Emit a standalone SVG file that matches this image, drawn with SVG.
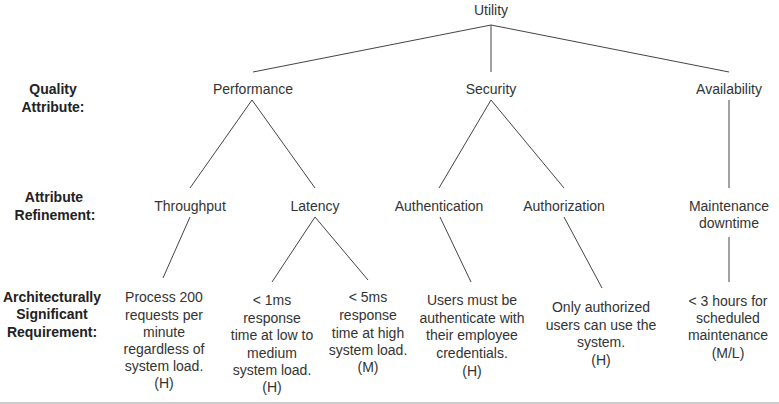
<svg xmlns="http://www.w3.org/2000/svg" width="779" height="404" viewBox="0 0 779 404">
<style>
text{font-family:"Liberation Sans",Arial,sans-serif;font-size:14px;fill:#333;text-anchor:middle}
.lbl{font-weight:bold;fill:#222}
.c line{stroke:#444;stroke-width:1}
</style>
<rect width="779" height="404" fill="#fff"/>
<rect x="0" y="402" width="779" height="2" fill="#ccc"/>
<g id="row-labels">
<text class="lbl" x="53" y="94">Quality</text>
<text class="lbl" x="53" y="111.5">Attribute:</text>
<text class="lbl" x="54" y="202">Attribute</text>
<text class="lbl" x="55" y="219.5">Refinement:</text>
<text class="lbl" x="52" y="302">Architecturally</text>
<text class="lbl" x="52" y="319">Significant</text>
<text class="lbl" x="52" y="336.5">Requirement:</text>
</g>
<g class="c" id="connectors">
<line x1="491" y1="25" x2="253" y2="72"/>
<line x1="491" y1="25" x2="491" y2="72"/>
<line x1="491" y1="25" x2="729" y2="72"/>
<line x1="252" y1="100" x2="190" y2="188"/>
<line x1="252" y1="100" x2="315" y2="188"/>
<line x1="491" y1="100" x2="439" y2="188"/>
<line x1="491" y1="100" x2="564" y2="188"/>
<line x1="729" y1="100" x2="729" y2="188"/>
<line x1="190" y1="217" x2="163" y2="278"/>
<line x1="315" y1="217" x2="272" y2="282"/>
<line x1="315" y1="217" x2="368" y2="280"/>
<line x1="440" y1="217" x2="471" y2="282"/>
<line x1="564" y1="217" x2="602" y2="288"/>
<line x1="729" y1="237" x2="729" y2="282"/>
</g>
<g id="utility"><text x="491" y="15">Utility</text></g>
<g id="performance"><text x="253" y="94">Performance</text></g>
<g id="security"><text x="491" y="94">Security</text></g>
<g id="availability"><text x="729" y="94">Availability</text></g>
<g id="throughput"><text x="190" y="211">Throughput</text></g>
<g id="latency"><text x="315" y="211">Latency</text></g>
<g id="authentication"><text x="439" y="211">Authentication</text></g>
<g id="authorization"><text x="564" y="211">Authorization</text></g>
<g id="maintenance"><text x="729" y="211">Maintenance</text><text x="729" y="228">downtime</text></g>
<g id="req-throughput">
<text x="164" y="302">Process 200</text>
<text x="164" y="319.5">requests per</text>
<text x="164" y="337">minute</text>
<text x="164" y="354">regardless of</text>
<text x="164" y="371">system load.</text>
<text x="164" y="388">(H)</text>
</g>
<g id="req-latency-low">
<text x="272" y="305">&lt; 1ms</text>
<text x="272" y="322.5">response</text>
<text x="272" y="340">time at low to</text>
<text x="272" y="357.5">medium</text>
<text x="272" y="375">system load.</text>
<text x="272" y="392">(H)</text>
</g>
<g id="req-latency-high">
<text x="368" y="302">&lt; 5ms</text>
<text x="368" y="320">response</text>
<text x="368" y="338">time at high</text>
<text x="368" y="355">system load.</text>
<text x="368" y="372">(M)</text>
</g>
<g id="req-authentication">
<text x="472" y="305">Users must be</text>
<text x="472" y="323">authenticate with</text>
<text x="472" y="340">their employee</text>
<text x="472" y="358">credentials.</text>
<text x="472" y="376">(H)</text>
</g>
<g id="req-authorization">
<text x="601" y="312">Only authorized</text>
<text x="601" y="330">users can use the</text>
<text x="601" y="347">system.</text>
<text x="601" y="365">(H)</text>
</g>
<g id="req-maintenance">
<text x="728" y="306">&lt; 3 hours for</text>
<text x="728" y="323">scheduled</text>
<text x="728" y="340">maintenance</text>
<text x="728" y="358">(M/L)</text>
</g>
</svg>
